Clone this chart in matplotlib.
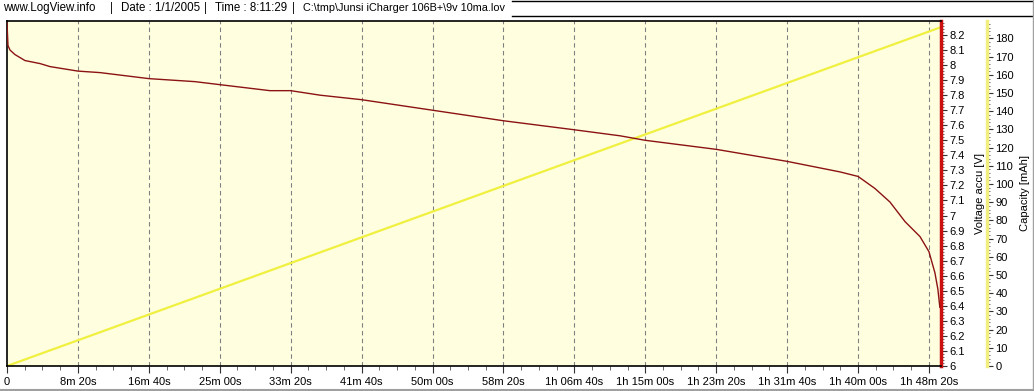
import matplotlib
matplotlib.use("Agg")
import matplotlib.pyplot as plt
from matplotlib.ticker import MultipleLocator, FixedLocator
from matplotlib.lines import Line2D

plt.rcParams['font.family'] = ['Liberation Sans', 'DejaVu Sans']

# ---- data ----
volt_t = [0, 7, 21, 56, 127, 233, 303, 500, 656, 1000, 1325, 1500, 1854, 2000,
          2207, 2500, 3000, 3500, 4000, 4322, 4500, 5000, 5500, 5873, 6000,
          6119, 6225, 6331, 6437, 6500, 6542, 6563, 6577]
volt_v = [8.28, 8.13, 8.10, 8.07, 8.03, 8.01, 7.99, 7.96, 7.95, 7.91, 7.89, 7.87,
          7.83, 7.83, 7.80, 7.77, 7.70, 7.63, 7.57, 7.53, 7.50, 7.44, 7.36, 7.29,
          7.26, 7.18, 7.09, 6.96, 6.86, 6.76, 6.62, 6.51, 6.39]
cap_t = [0, 6577]
cap_mah = [0, 186]

x_ticks = [0, 500, 1000, 1500, 2000, 2500, 3000, 3500, 4000, 4500, 5000, 5500, 6000, 6500]
x_tick_labels = ["0", "8m 20s", "16m 40s", "25m 00s", "33m 20s", "41m 40s",
                 "50m 00s", "58m 20s", "1h 06m 40s", "1h 15m 00s", "1h 23m 20s",
                 "1h 31m 40s", "1h 40m 00s", "1h 48m 20s"]
header_parts = ["www.LogView.info", "|", "Date : 1/1/2005", "|", "Time : 8:11:29", "|",
                "C:\\tmp\\Junsi iCharger 106B+\\9v 10ma.lov"]
header_x = [3, 110, 121, 204, 215, 292, 303]
header_fs = [8.3, 8.3, 8.3, 8.3, 8.3, 8.3, 7.8]

W, H = 1034, 391
fig = plt.figure(figsize=(W / 100, H / 100), dpi=100)
fig.patch.set_facecolor('white')

L, R, T, B = 7, 941, 21, 366
ax = fig.add_axes([L / W, 1 - B / H, (R - L) / W, (B - T) / H])

red_line = '#8b1212'
red_spine = '#cc1010'
yel_line = '#f0f040'
yel_spine = '#f2ee80'
bg = '#ffffe0'

# capacity axis (behind)
ax2 = ax.twinx()
ax.set_zorder(ax2.get_zorder() + 1)
ax.patch.set_visible(False)
ax2.patch.set_visible(True)
ax2.patch.set_facecolor(bg)

ax.plot(volt_t, volt_v, color=red_line, lw=1.0, zorder=3)
ax.set_xlim(0, 6585)
ax.set_ylim(6, 8.293)

# x axis
ax.set_xticks(x_ticks)
ax.set_xticklabels(x_tick_labels, fontsize=8)
ax.xaxis.set_minor_locator(MultipleLocator(125))
ax.tick_params(axis='x', which='major', length=5, width=0.8, pad=3, color='#333333')
ax.tick_params(axis='x', which='minor', length=3, width=0.6, color='#555555')
for xt in x_ticks[1:]:
    ax2.axvline(xt, color='#808080', lw=0.8, ls=(0, (4, 3)), zorder=1)

# voltage axis on right
ax.yaxis.tick_right()
ax.yaxis.set_label_position('right')
ax.yaxis.set_major_locator(FixedLocator([6 + 0.1 * i for i in range(23)]))
ax.yaxis.set_major_formatter(plt.FuncFormatter(lambda v, p: ('%.1f' % v).rstrip('0').rstrip('.')))
ax.yaxis.set_minor_locator(MultipleLocator(0.02))
ax.tick_params(axis='y', which='both', left=False, labelleft=False, right=True, labelright=True)
ax.tick_params(axis='y', which='major', length=4, width=0.8, pad=2, labelsize=8, color='#333333')
ax.tick_params(axis='y', which='minor', length=2, width=0.6, color='#555555')
ax.set_ylabel('Voltage accu [V]', fontsize=8, rotation=90)
ax.yaxis.set_label_coords((975 - L) / (R - L), 0.5)

for s in ['left', 'bottom', 'top']:
    ax.spines[s].set_color('black')
    ax.spines[s].set_linewidth(1.2)
ax.spines['right'].set_color(red_spine)
ax.spines['right'].set_linewidth(2.5)

ax2.plot(cap_t, cap_mah, color=yel_line, lw=1.6, zorder=2)
ax2.set_xlim(0, 6585)
ax2.set_ylim(0, 189.6)
ax2.spines['right'].set_position(('outward', (987 - R) * 0.72))
ax2.spines['right'].set_color(yel_spine)
ax2.spines['right'].set_linewidth(2.5)
for s in ['left', 'top', 'bottom']:
    ax2.spines[s].set_visible(False)
ax2.yaxis.set_major_locator(MultipleLocator(10))
ax2.yaxis.set_minor_locator(MultipleLocator(2))
ax2.tick_params(axis='y', which='major', length=4, width=0.8, pad=2, labelsize=8, color='#333333')
ax2.tick_params(axis='y', which='minor', length=2, width=0.6, color='#555555')
ax2.set_ylabel('Capacity [mAh]', fontsize=8, rotation=90)
ax2.yaxis.set_label_coords((1020 - L) / (R - L), 0.5)

# header and frame
for txt, hx, fs in zip(header_parts, header_x, header_fs):
    fig.text(hx / W, 1 - 8 / H, txt, fontsize=fs, va='center', ha='left')

def hline(y, x0, x1, color, lw):
    fig.add_artist(Line2D([x0 / W, x1 / W], [1 - y / H, 1 - y / H], color=color, lw=lw,
                          transform=fig.transFigure))
hline(0.5, 512, W, 'black', 1.0)
hline(16, 512, W, 'black', 1.0)
hline(389.5, 0, W, '#a0a0a0', 1.5)
fig.add_artist(Line2D([1033 / W, 1033 / W], [0, 1], color='#a0a0a0', lw=1.0,
                      transform=fig.transFigure))

fig.savefig('out.png', dpi=100)
